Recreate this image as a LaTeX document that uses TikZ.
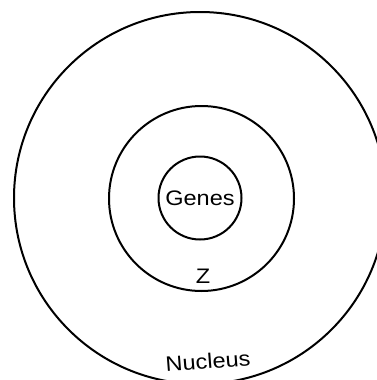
\documentclass[tikz,border=0pt]{standalone}
\usepackage{fontspec}
\setmainfont{Liberation Sans}
\begin{document}
\begin{tikzpicture}[x=1pt,y=-1pt,
  ring/.style={circle,draw,line width=2pt,inner sep=0pt},
  lbl/.style={font=\fontsize{21}{25}\selectfont,inner sep=0pt,xscale=1.12}]
\useasboundingbox (0,0) rectangle (377,380);
\clip (0,0) rectangle (377,380);
\node[ring,minimum size=372pt] (nucleus) at (200,198) {};
\node[ring,minimum size=185pt] (z) at (201.5,198.5) {};
\node[ring,minimum size=83pt] (genes) at (200,198) {};
\node[lbl] (genestext) at (genes.center) {Genes};
\node[lbl] (ztext) at (203,276) {Z};
\node[lbl,rotate=4] (nucleustext) at (208,361) {Nucleus};
\end{tikzpicture}
\end{document}
